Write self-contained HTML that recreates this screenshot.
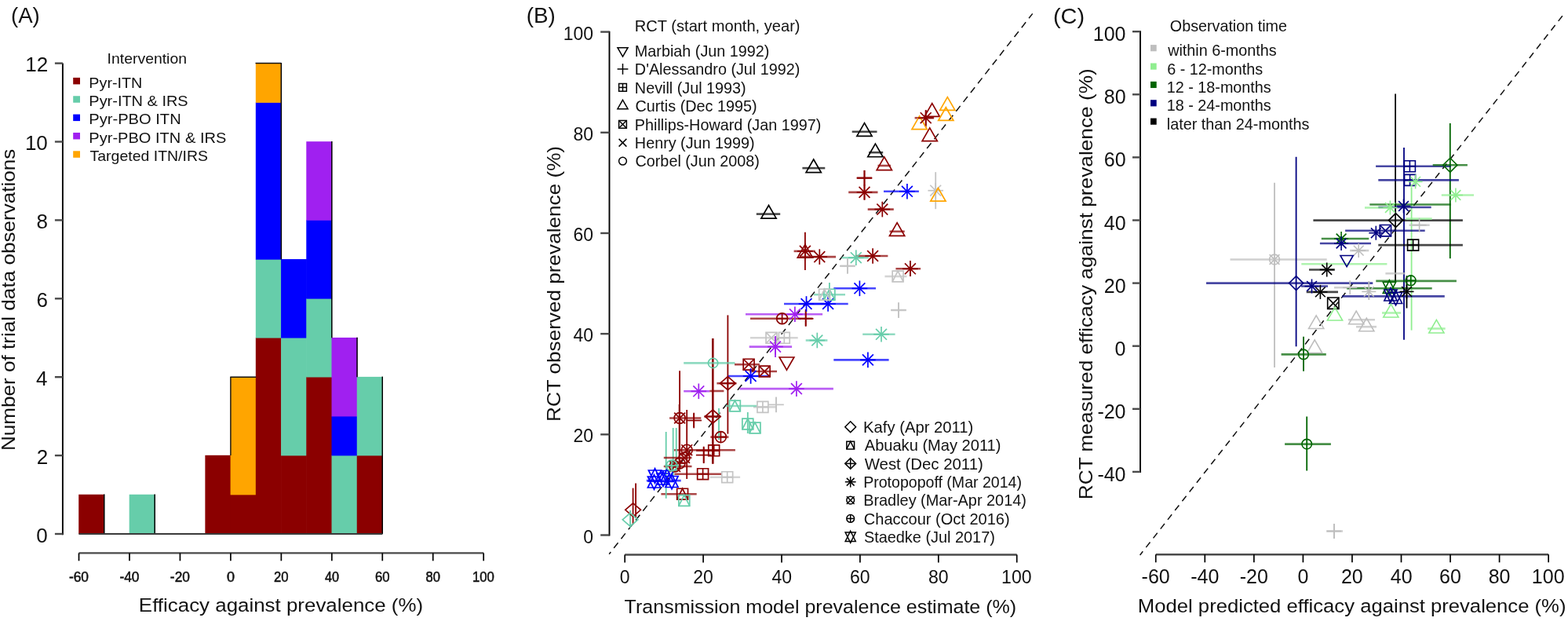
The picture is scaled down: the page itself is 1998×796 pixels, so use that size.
<!DOCTYPE html>
<html><head><meta charset="utf-8"><style>
html,body{margin:0;padding:0;background:#fff;}
svg{display:block;}
text{font-family:"Liberation Sans",Arial,sans-serif;}
</style></head><body>
<svg width="1998" height="796" viewBox="0 0 1998 796">
<rect width="1998" height="796" fill="#fff"/>
<rect x="100.22" y="629.75" width="32.83" height="50.55" fill="#8b0000"/>
<rect x="164.68" y="629.75" width="32.83" height="50.55" fill="#66cdaa"/>
<rect x="261.37" y="579.80" width="32.83" height="100.50" fill="#8b0000"/>
<rect x="293.60" y="629.75" width="32.83" height="50.55" fill="#8b0000"/>
<rect x="293.60" y="479.90" width="32.83" height="150.45" fill="#ffa500"/>
<rect x="325.83" y="429.95" width="32.83" height="250.35" fill="#8b0000"/>
<rect x="325.83" y="330.05" width="32.83" height="100.50" fill="#66cdaa"/>
<rect x="325.83" y="130.25" width="32.83" height="200.40" fill="#0000ff"/>
<rect x="325.83" y="80.30" width="32.83" height="50.55" fill="#ffa500"/>
<rect x="358.06" y="579.80" width="32.83" height="100.50" fill="#8b0000"/>
<rect x="358.06" y="429.95" width="32.83" height="150.45" fill="#66cdaa"/>
<rect x="358.06" y="330.05" width="32.83" height="100.50" fill="#0000ff"/>
<rect x="390.29" y="479.90" width="32.83" height="200.40" fill="#8b0000"/>
<rect x="390.29" y="380.00" width="32.83" height="100.50" fill="#66cdaa"/>
<rect x="390.29" y="280.10" width="32.83" height="100.50" fill="#0000ff"/>
<rect x="390.29" y="180.20" width="32.83" height="100.50" fill="#a020f0"/>
<rect x="422.52" y="579.80" width="32.83" height="100.50" fill="#66cdaa"/>
<rect x="422.52" y="529.85" width="32.83" height="50.55" fill="#0000ff"/>
<rect x="422.52" y="429.95" width="32.83" height="100.50" fill="#a020f0"/>
<rect x="454.75" y="579.80" width="32.83" height="100.50" fill="#8b0000"/>
<rect x="454.75" y="479.90" width="32.83" height="100.50" fill="#66cdaa"/>
<line x1="132.75" y1="629.45" x2="132.75" y2="680.00" stroke="#000" stroke-width="1.5"/>
<line x1="197.21" y1="629.45" x2="197.21" y2="680.00" stroke="#000" stroke-width="1.5"/>
<line x1="293.30" y1="480.20" x2="326.13" y2="480.20" stroke="#111" stroke-width="1.5"/>
<line x1="358.36" y1="80.00" x2="358.36" y2="330.35" stroke="#000" stroke-width="1.5"/>
<line x1="325.53" y1="80.60" x2="358.36" y2="80.60" stroke="#111" stroke-width="1.5"/>
<line x1="422.82" y1="179.90" x2="422.82" y2="430.25" stroke="#000" stroke-width="1.5"/>
<line x1="455.05" y1="429.65" x2="455.05" y2="480.20" stroke="#000" stroke-width="1.5"/>
<line x1="487.28" y1="479.60" x2="487.28" y2="680.00" stroke="#000" stroke-width="1.5"/>
<line x1="293.90" y1="480.20" x2="293.90" y2="580.10" stroke="#111" stroke-width="1.4"/>
<line x1="100.52" y1="680.00" x2="487.28" y2="680.00" stroke="#3a3a3a" stroke-width="2.0"/>
<line x1="79.90" y1="681.20" x2="79.90" y2="80.60" stroke="#000" stroke-width="1.9"/>
<line x1="69.90" y1="680.00" x2="79.90" y2="680.00" stroke="#4a4a4a" stroke-width="2.4"/>
<text x="46.31" y="690.50" font-size="26" fill="#111">0</text>
<line x1="69.90" y1="580.10" x2="79.90" y2="580.10" stroke="#4a4a4a" stroke-width="2.4"/>
<text x="46.64" y="590.60" font-size="26" fill="#111">2</text>
<line x1="69.90" y1="480.20" x2="79.90" y2="480.20" stroke="#4a4a4a" stroke-width="2.4"/>
<text x="46.05" y="490.70" font-size="26" fill="#111">4</text>
<line x1="69.90" y1="380.30" x2="79.90" y2="380.30" stroke="#4a4a4a" stroke-width="2.4"/>
<text x="46.44" y="390.80" font-size="26" fill="#111">6</text>
<line x1="69.90" y1="280.40" x2="79.90" y2="280.40" stroke="#4a4a4a" stroke-width="2.4"/>
<text x="46.44" y="290.90" font-size="26" fill="#111">8</text>
<line x1="69.90" y1="180.50" x2="79.90" y2="180.50" stroke="#4a4a4a" stroke-width="2.4"/>
<text x="31.88" y="191.00" font-size="26" fill="#111">10</text>
<line x1="69.90" y1="80.60" x2="79.90" y2="80.60" stroke="#4a4a4a" stroke-width="2.4"/>
<text x="32.20" y="91.10" font-size="26" fill="#111">12</text>
<line x1="100.52" y1="704.40" x2="616.20" y2="704.40" stroke="#4a4a4a" stroke-width="2.4"/>
<line x1="100.52" y1="704.40" x2="100.52" y2="714.30" stroke="#000" stroke-width="1.7"/>
<text x="87.94" y="741.40" font-size="18" fill="#111" textLength="25.08" lengthAdjust="spacingAndGlyphs" stroke="#111" stroke-width="0.55">-60</text>
<line x1="164.98" y1="704.40" x2="164.98" y2="714.30" stroke="#000" stroke-width="1.7"/>
<text x="152.40" y="741.40" font-size="18" fill="#111" textLength="25.08" lengthAdjust="spacingAndGlyphs" stroke="#111" stroke-width="0.55">-40</text>
<line x1="229.44" y1="704.40" x2="229.44" y2="714.30" stroke="#000" stroke-width="1.7"/>
<text x="216.86" y="741.40" font-size="18" fill="#111" textLength="25.08" lengthAdjust="spacingAndGlyphs" stroke="#111" stroke-width="0.55">-20</text>
<line x1="293.90" y1="704.40" x2="293.90" y2="714.30" stroke="#000" stroke-width="1.7"/>
<text x="288.90" y="741.40" font-size="18" fill="#111" stroke="#111" stroke-width="0.55">0</text>
<line x1="358.36" y1="704.40" x2="358.36" y2="714.30" stroke="#000" stroke-width="1.7"/>
<text x="349.03" y="741.40" font-size="18" fill="#111" textLength="18.54" lengthAdjust="spacingAndGlyphs" stroke="#111" stroke-width="0.55">20</text>
<line x1="422.82" y1="704.40" x2="422.82" y2="714.30" stroke="#000" stroke-width="1.7"/>
<text x="413.95" y="741.40" font-size="18" fill="#111" textLength="18.05" lengthAdjust="spacingAndGlyphs" stroke="#111" stroke-width="0.55">40</text>
<line x1="487.28" y1="704.40" x2="487.28" y2="714.30" stroke="#000" stroke-width="1.7"/>
<text x="477.95" y="741.40" font-size="18" fill="#111" textLength="18.54" lengthAdjust="spacingAndGlyphs" stroke="#111" stroke-width="0.55">60</text>
<line x1="551.74" y1="704.40" x2="551.74" y2="714.30" stroke="#000" stroke-width="1.7"/>
<text x="542.54" y="741.40" font-size="18" fill="#111" textLength="18.40" lengthAdjust="spacingAndGlyphs" stroke="#111" stroke-width="0.55">80</text>
<line x1="616.20" y1="704.40" x2="616.20" y2="714.30" stroke="#000" stroke-width="1.7"/>
<text x="601.94" y="741.40" font-size="18" fill="#111" textLength="27.94" lengthAdjust="spacingAndGlyphs" stroke="#111" stroke-width="0.55">100</text>
<text x="176.86" y="779.00" font-size="24.5" fill="#111" textLength="362.25" lengthAdjust="spacingAndGlyphs">Efficacy against prevalence (%)</text>
<text transform="translate(18.60,574.05) rotate(-90)" x="0" y="0" font-size="24.5" fill="#111" textLength="384.43" lengthAdjust="spacingAndGlyphs">Number of trial data observations</text>
<text x="13.97" y="29.00" font-size="28" fill="#111" textLength="36.84" lengthAdjust="spacingAndGlyphs">(A)</text>
<text x="136.60" y="81.00" font-size="19" fill="#111" textLength="101.42" lengthAdjust="spacingAndGlyphs">Intervention</text>
<rect x="93.20" y="98.90" width="8.80" height="8.50" fill="#8b0000"/>
<text x="113.37" y="111.60" font-size="19" fill="#111" textLength="67.98" lengthAdjust="spacingAndGlyphs">Pyr-ITN</text>
<rect x="93.20" y="122.25" width="8.80" height="8.50" fill="#66cdaa"/>
<text x="113.35" y="134.95" font-size="19" fill="#111" textLength="126.32" lengthAdjust="spacingAndGlyphs">Pyr-ITN &amp; IRS</text>
<rect x="93.20" y="145.60" width="8.80" height="8.50" fill="#0000ff"/>
<text x="113.34" y="158.30" font-size="19" fill="#111" textLength="117.34" lengthAdjust="spacingAndGlyphs">Pyr-PBO ITN</text>
<rect x="93.20" y="168.95" width="8.80" height="8.50" fill="#a020f0"/>
<text x="113.34" y="181.65" font-size="19" fill="#111" textLength="175.02" lengthAdjust="spacingAndGlyphs">Pyr-PBO ITN &amp; IRS</text>
<rect x="93.20" y="192.30" width="8.80" height="8.50" fill="#ffa500"/>
<text x="114.56" y="205.00" font-size="19" fill="#111" textLength="150.42" lengthAdjust="spacingAndGlyphs">Targeted ITN/IRS</text>
<line x1="776.2" y1="705.68" x2="1315.7" y2="17.40" stroke="#111" stroke-width="1.5" stroke-dasharray="8.7,6.34" stroke-dashoffset="5.34"/>
<line x1="776.50" y1="682.50" x2="776.50" y2="39.70" stroke="#000" stroke-width="1.9"/>
<line x1="765.20" y1="681.50" x2="776.50" y2="681.50" stroke="#4a4a4a" stroke-width="2.4"/>
<text x="743.36" y="691.50" font-size="23" fill="#111">0</text>
<line x1="765.20" y1="553.32" x2="776.50" y2="553.32" stroke="#4a4a4a" stroke-width="2.4"/>
<text x="730.59" y="563.32" font-size="23" fill="#111">20</text>
<line x1="765.20" y1="425.14" x2="776.50" y2="425.14" stroke="#4a4a4a" stroke-width="2.4"/>
<text x="730.59" y="435.14" font-size="23" fill="#111">40</text>
<line x1="765.20" y1="296.96" x2="776.50" y2="296.96" stroke="#4a4a4a" stroke-width="2.4"/>
<text x="730.59" y="306.96" font-size="23" fill="#111">60</text>
<line x1="765.20" y1="168.78" x2="776.50" y2="168.78" stroke="#4a4a4a" stroke-width="2.4"/>
<text x="730.59" y="178.78" font-size="23" fill="#111">80</text>
<line x1="765.20" y1="40.60" x2="776.50" y2="40.60" stroke="#4a4a4a" stroke-width="2.4"/>
<text x="717.77" y="50.60" font-size="23" fill="#111">100</text>
<line x1="796.20" y1="706.50" x2="1295.70" y2="706.50" stroke="#4a4a4a" stroke-width="2.4"/>
<line x1="796.20" y1="706.50" x2="796.20" y2="716.50" stroke="#000" stroke-width="1.7"/>
<text x="789.82" y="742.50" font-size="23" fill="#111">0</text>
<line x1="896.10" y1="706.50" x2="896.10" y2="716.50" stroke="#000" stroke-width="1.7"/>
<text x="883.22" y="742.50" font-size="23" fill="#111">20</text>
<line x1="996.00" y1="706.50" x2="996.00" y2="716.50" stroke="#000" stroke-width="1.7"/>
<text x="983.44" y="742.50" font-size="23" fill="#111">40</text>
<line x1="1095.90" y1="706.50" x2="1095.90" y2="716.50" stroke="#000" stroke-width="1.7"/>
<text x="1083.02" y="742.50" font-size="23" fill="#111">60</text>
<line x1="1195.80" y1="706.50" x2="1195.80" y2="716.50" stroke="#000" stroke-width="1.7"/>
<text x="1183.01" y="742.50" font-size="23" fill="#111">80</text>
<line x1="1295.70" y1="706.50" x2="1295.70" y2="716.50" stroke="#000" stroke-width="1.7"/>
<text x="1276.12" y="742.50" font-size="23" fill="#111">100</text>
<text x="795.64" y="780.50" font-size="24.5" fill="#111" textLength="499.51" lengthAdjust="spacingAndGlyphs">Transmission model prevalence estimate (%)</text>
<text transform="translate(713.60,536.96) rotate(-90)" x="0" y="0" font-size="24.5" fill="#111" textLength="351.04" lengthAdjust="spacingAndGlyphs">RCT observed prevalence (%)</text>
<text x="670.66" y="28.70" font-size="27.5" fill="#111" textLength="37.17" lengthAdjust="spacingAndGlyphs">(B)</text>
<text x="808.84" y="39.90" font-size="19.8" fill="#111" textLength="210.70" lengthAdjust="spacingAndGlyphs">RCT (start month, year)</text>
<text x="808.87" y="71.70" font-size="19.8" fill="#111">Marbiah (Jun 1992)</text>
<path d="M793.50,72.08 L800.07,60.71 L786.93,60.71 Z" fill="none" stroke="#000" stroke-width="1.5" stroke-linejoin="miter"/>
<text x="808.87" y="95.15" font-size="19.8" fill="#111">D'Alessandro (Jul 1992)</text>
<line x1="786.61" y1="87.95" x2="800.39" y2="87.95" stroke="#000" stroke-width="1.5"/>
<line x1="793.50" y1="81.06" x2="793.50" y2="94.84" stroke="#000" stroke-width="1.5"/>
<text x="808.87" y="118.60" font-size="19.8" fill="#111">Nevill (Jul 1993)</text>
<path d="M788.62,106.52 L798.38,106.52 L798.38,116.27 L788.62,116.27 Z" fill="none" stroke="#000" stroke-width="1.5" stroke-linejoin="miter"/>
<line x1="788.62" y1="111.40" x2="798.38" y2="111.40" stroke="#000" stroke-width="1.5"/>
<line x1="793.50" y1="106.52" x2="793.50" y2="116.27" stroke="#000" stroke-width="1.5"/>
<text x="809.51" y="142.05" font-size="19.8" fill="#111">Curtis (Dec 1995)</text>
<path d="M793.50,127.27 L800.07,138.64 L786.93,138.64 Z" fill="none" stroke="#000" stroke-width="1.5" stroke-linejoin="miter"/>
<text x="808.87" y="165.50" font-size="19.8" fill="#111">Phillips-Howard (Jan 1997)</text>
<path d="M788.62,153.43 L798.38,153.43 L798.38,163.18 L788.62,163.18 Z" fill="none" stroke="#000" stroke-width="1.5" stroke-linejoin="miter"/>
<line x1="788.62" y1="153.43" x2="798.38" y2="163.18" stroke="#000" stroke-width="1.5"/>
<line x1="788.62" y1="163.18" x2="798.38" y2="153.43" stroke="#000" stroke-width="1.5"/>
<text x="808.87" y="188.95" font-size="19.8" fill="#111">Henry (Jun 1999)</text>
<line x1="788.62" y1="176.88" x2="798.38" y2="186.62" stroke="#000" stroke-width="1.5"/>
<line x1="788.62" y1="186.62" x2="798.38" y2="176.88" stroke="#000" stroke-width="1.5"/>
<text x="809.51" y="212.40" font-size="19.8" fill="#111">Corbel (Jun 2008)</text>
<ellipse cx="793.50" cy="205.20" rx="4.88" ry="4.88" fill="none" stroke="#000" stroke-width="1.5"/>
<text x="1100.13" y="550.90" font-size="19.8" fill="#111" textLength="140.17" lengthAdjust="spacingAndGlyphs">Kafy (Apr 2011)</text>
<path d="M1076.81,543.70 L1083.70,536.81 L1090.59,543.70 L1083.70,550.59 Z" fill="none" stroke="#000" stroke-width="1.5" stroke-linejoin="miter"/>
<text x="1101.75" y="574.25" font-size="19.8" fill="#111" textLength="173.67" lengthAdjust="spacingAndGlyphs">Abuaku (May 2011)</text>
<path d="M1078.83,562.17 L1088.58,562.17 L1088.58,571.92 L1078.83,571.92 Z" fill="none" stroke="#000" stroke-width="1.5" stroke-linejoin="miter"/>
<path d="M1078.83,571.92 L1083.70,562.17 L1088.58,571.92" fill="none" stroke="#000" stroke-width="1.5" stroke-linejoin="miter"/>
<text x="1101.70" y="597.60" font-size="19.8" fill="#111" textLength="151.14" lengthAdjust="spacingAndGlyphs">West (Dec 2011)</text>
<path d="M1076.81,590.40 L1083.70,583.51 L1090.59,590.40 L1083.70,597.29 Z" fill="none" stroke="#000" stroke-width="1.5" stroke-linejoin="miter"/>
<line x1="1076.81" y1="590.40" x2="1090.59" y2="590.40" stroke="#000" stroke-width="1.5"/>
<line x1="1083.70" y1="583.51" x2="1083.70" y2="597.29" stroke="#000" stroke-width="1.5"/>
<text x="1100.19" y="620.95" font-size="19.8" fill="#111" textLength="201.81" lengthAdjust="spacingAndGlyphs">Protopopoff (Mar 2014)</text>
<line x1="1078.83" y1="608.88" x2="1088.58" y2="618.62" stroke="#000" stroke-width="1.5"/>
<line x1="1078.83" y1="618.62" x2="1088.58" y2="608.88" stroke="#000" stroke-width="1.5"/>
<line x1="1076.81" y1="613.75" x2="1090.59" y2="613.75" stroke="#000" stroke-width="1.5"/>
<line x1="1083.70" y1="606.86" x2="1083.70" y2="620.64" stroke="#000" stroke-width="1.5"/>
<text x="1100.16" y="644.30" font-size="19.8" fill="#111" textLength="207.75" lengthAdjust="spacingAndGlyphs">Bradley (Mar-Apr 2014)</text>
<ellipse cx="1083.70" cy="637.10" rx="4.88" ry="4.88" fill="none" stroke="#000" stroke-width="1.5"/>
<line x1="1078.83" y1="632.22" x2="1088.58" y2="641.97" stroke="#000" stroke-width="1.5"/>
<line x1="1078.83" y1="641.97" x2="1088.58" y2="632.22" stroke="#000" stroke-width="1.5"/>
<text x="1100.80" y="667.65" font-size="19.8" fill="#111" textLength="185.79" lengthAdjust="spacingAndGlyphs">Chaccour (Oct 2016)</text>
<ellipse cx="1083.70" cy="660.45" rx="4.88" ry="4.88" fill="none" stroke="#000" stroke-width="1.5"/>
<line x1="1078.83" y1="660.45" x2="1088.58" y2="660.45" stroke="#000" stroke-width="1.5"/>
<line x1="1083.70" y1="655.57" x2="1083.70" y2="665.32" stroke="#000" stroke-width="1.5"/>
<text x="1100.90" y="691.00" font-size="19.8" fill="#111" textLength="166.97" lengthAdjust="spacingAndGlyphs">Staedke (Jul 2017)</text>
<path d="M1083.70,676.22 L1090.27,689.49 L1077.13,689.49 Z" fill="none" stroke="#000" stroke-width="1.5" stroke-linejoin="miter"/>
<path d="M1083.70,691.38 L1090.27,678.11 L1077.13,678.11 Z" fill="none" stroke="#000" stroke-width="1.5" stroke-linejoin="miter"/>
<line x1="1452.6" y1="706.95" x2="1993.2" y2="17.32" stroke="#111" stroke-width="1.5" stroke-dasharray="8.4,6.54" stroke-dashoffset="2.44"/>
<line x1="1453.00" y1="601.90" x2="1453.00" y2="39.30" stroke="#000" stroke-width="1.9"/>
<line x1="1443.00" y1="600.90" x2="1453.00" y2="600.90" stroke="#4a4a4a" stroke-width="2.4"/>
<text x="1398.38" y="612.90" font-size="25" fill="#111">-40</text>
<line x1="1443.00" y1="520.80" x2="1453.00" y2="520.80" stroke="#4a4a4a" stroke-width="2.4"/>
<text x="1398.38" y="532.80" font-size="25" fill="#111">-20</text>
<line x1="1443.00" y1="440.70" x2="1453.00" y2="440.70" stroke="#4a4a4a" stroke-width="2.4"/>
<text x="1420.62" y="452.70" font-size="25" fill="#111">0</text>
<line x1="1443.00" y1="360.60" x2="1453.00" y2="360.60" stroke="#4a4a4a" stroke-width="2.4"/>
<text x="1406.75" y="372.60" font-size="25" fill="#111">20</text>
<line x1="1443.00" y1="280.50" x2="1453.00" y2="280.50" stroke="#4a4a4a" stroke-width="2.4"/>
<text x="1406.75" y="292.50" font-size="25" fill="#111">40</text>
<line x1="1443.00" y1="200.40" x2="1453.00" y2="200.40" stroke="#4a4a4a" stroke-width="2.4"/>
<text x="1406.75" y="212.40" font-size="25" fill="#111">60</text>
<line x1="1443.00" y1="120.30" x2="1453.00" y2="120.30" stroke="#4a4a4a" stroke-width="2.4"/>
<text x="1406.75" y="132.30" font-size="25" fill="#111">80</text>
<line x1="1443.00" y1="40.20" x2="1453.00" y2="40.20" stroke="#4a4a4a" stroke-width="2.4"/>
<text x="1392.81" y="52.20" font-size="25" fill="#111">100</text>
<line x1="1472.75" y1="706.30" x2="1973.15" y2="706.30" stroke="#4a4a4a" stroke-width="2.4"/>
<line x1="1472.75" y1="706.30" x2="1472.75" y2="716.30" stroke="#000" stroke-width="1.7"/>
<text x="1454.62" y="742.60" font-size="25" fill="#111">-60</text>
<line x1="1535.30" y1="706.30" x2="1535.30" y2="716.30" stroke="#000" stroke-width="1.7"/>
<text x="1517.18" y="742.60" font-size="25" fill="#111">-40</text>
<line x1="1597.85" y1="706.30" x2="1597.85" y2="716.30" stroke="#000" stroke-width="1.7"/>
<text x="1579.73" y="742.60" font-size="25" fill="#111">-20</text>
<line x1="1660.40" y1="706.30" x2="1660.40" y2="716.30" stroke="#000" stroke-width="1.7"/>
<text x="1653.46" y="742.60" font-size="25" fill="#111">0</text>
<line x1="1722.95" y1="706.30" x2="1722.95" y2="716.30" stroke="#000" stroke-width="1.7"/>
<text x="1708.95" y="742.60" font-size="25" fill="#111">20</text>
<line x1="1785.50" y1="706.30" x2="1785.50" y2="716.30" stroke="#000" stroke-width="1.7"/>
<text x="1771.84" y="742.60" font-size="25" fill="#111">40</text>
<line x1="1848.05" y1="706.30" x2="1848.05" y2="716.30" stroke="#000" stroke-width="1.7"/>
<text x="1834.05" y="742.60" font-size="25" fill="#111">60</text>
<line x1="1910.60" y1="706.30" x2="1910.60" y2="716.30" stroke="#000" stroke-width="1.7"/>
<text x="1896.69" y="742.60" font-size="25" fill="#111">80</text>
<line x1="1973.15" y1="706.30" x2="1973.15" y2="716.30" stroke="#000" stroke-width="1.7"/>
<text x="1951.87" y="742.60" font-size="25" fill="#111">100</text>
<text x="1449.88" y="780.30" font-size="24.5" fill="#111" textLength="545.61" lengthAdjust="spacingAndGlyphs">Model predicted efficacy against prevalence (%)</text>
<text transform="translate(1392.40,636.27) rotate(-90)" x="0" y="0" font-size="24.5" fill="#111" textLength="549.08" lengthAdjust="spacingAndGlyphs">RCT measured efficacy against prevalence (%)</text>
<text x="1341.99" y="30.00" font-size="27.5" fill="#111" textLength="40.10" lengthAdjust="spacingAndGlyphs">(C)</text>
<text x="1490.86" y="39.50" font-size="19.8" fill="#111" textLength="149.05" lengthAdjust="spacingAndGlyphs">Observation time</text>
<text x="1488.20" y="71.30" font-size="19.8" fill="#111">within 6-months</text>
<rect x="1466.00" y="57.10" width="7.70" height="8.20" fill="#bebebe"/>
<text x="1487.21" y="94.67" font-size="19.8" fill="#111">6 - 12-months</text>
<rect x="1466.00" y="80.47" width="7.70" height="8.20" fill="#90ee90"/>
<text x="1486.72" y="118.04" font-size="19.8" fill="#111">12 - 18-months</text>
<rect x="1466.00" y="103.84" width="7.70" height="8.20" fill="#006400"/>
<text x="1486.72" y="141.41" font-size="19.8" fill="#111">18 - 24-months</text>
<rect x="1466.00" y="127.21" width="7.70" height="8.20" fill="#000080"/>
<text x="1486.86" y="164.78" font-size="19.8" fill="#111">later than 24-months</text>
<rect x="1466.00" y="150.58" width="7.70" height="8.20" fill="#000"/>
<line x1="806.60" y1="621.60" x2="806.60" y2="668.00" stroke="#8b0000" stroke-width="1.8"/>
<line x1="803.10" y1="650.00" x2="803.10" y2="672.00" stroke="#66cdaa" stroke-width="1.8"/>
<line x1="810.10" y1="615.60" x2="810.10" y2="660.00" stroke="#8b0000" stroke-width="1.8"/>
<line x1="823.80" y1="612.10" x2="867.70" y2="612.10" stroke="#0000ff" stroke-width="2.6" stroke-opacity="0.72"/>
<line x1="842.40" y1="629.20" x2="887.70" y2="629.20" stroke="#8b0000" stroke-width="2.6" stroke-opacity="0.72"/>
<line x1="859.40" y1="603.70" x2="919.30" y2="603.70" stroke="#8b0000" stroke-width="2.6" stroke-opacity="0.72"/>
<line x1="904.60" y1="607.70" x2="943.10" y2="607.70" stroke="#c4c4c4" stroke-width="2.6" stroke-opacity="0.72"/>
<line x1="858.80" y1="573.20" x2="936.90" y2="573.20" stroke="#8b0000" stroke-width="2.6" stroke-opacity="0.72"/>
<line x1="887.10" y1="573.80" x2="917.10" y2="573.80" stroke="#8b0000" stroke-width="2.6" stroke-opacity="0.72"/>
<line x1="896.70" y1="568.70" x2="896.70" y2="590.10" stroke="#8b0000" stroke-width="1.8"/>
<line x1="848.70" y1="550.00" x2="848.70" y2="634.80" stroke="#66cdaa" stroke-width="1.8"/>
<line x1="857.70" y1="545.00" x2="857.70" y2="606.00" stroke="#66cdaa" stroke-width="1.8"/>
<line x1="861.70" y1="545.00" x2="861.70" y2="600.00" stroke="#66cdaa" stroke-width="1.8"/>
<line x1="875.20" y1="522.00" x2="875.20" y2="610.00" stroke="#8b0000" stroke-width="1.8"/>
<line x1="865.60" y1="515.00" x2="865.60" y2="597.00" stroke="#8b0000" stroke-width="1.8"/>
<line x1="845.80" y1="583.00" x2="881.50" y2="583.00" stroke="#8b0000" stroke-width="2.6" stroke-opacity="0.72"/>
<line x1="845.80" y1="594.00" x2="881.50" y2="594.00" stroke="#8b0000" stroke-width="2.6" stroke-opacity="0.72"/>
<line x1="847.00" y1="593.00" x2="868.50" y2="593.00" stroke="#66cdaa" stroke-width="2.6" stroke-opacity="0.72"/>
<line x1="853.10" y1="532.50" x2="893.30" y2="532.50" stroke="#8b0000" stroke-width="2.6" stroke-opacity="0.72"/>
<line x1="866.10" y1="472.20" x2="866.10" y2="580.70" stroke="#8b0000" stroke-width="1.8"/>
<line x1="884.20" y1="526.40" x2="884.20" y2="544.50" stroke="#8b0000" stroke-width="1.8"/>
<line x1="908.30" y1="431.00" x2="908.30" y2="590.80" stroke="#8b0000" stroke-width="2.6"/>
<line x1="897.30" y1="530.50" x2="918.40" y2="530.50" stroke="#8b0000" stroke-width="2.6" stroke-opacity="0.72"/>
<line x1="905.30" y1="556.60" x2="928.40" y2="556.60" stroke="#8b0000" stroke-width="2.6" stroke-opacity="0.72"/>
<line x1="916.00" y1="520.00" x2="916.00" y2="560.00" stroke="#66cdaa" stroke-width="1.8"/>
<line x1="913.40" y1="488.20" x2="938.50" y2="488.20" stroke="#8b0000" stroke-width="2.6" stroke-opacity="0.72"/>
<line x1="927.40" y1="401.40" x2="927.40" y2="552.60" stroke="#8b0000" stroke-width="1.8"/>
<line x1="871.20" y1="462.40" x2="936.50" y2="462.40" stroke="#66cdaa" stroke-width="2.6" stroke-opacity="0.72"/>
<line x1="871.20" y1="498.30" x2="904.30" y2="498.30" stroke="#a020f0" stroke-width="2.6" stroke-opacity="0.72"/>
<line x1="904.30" y1="498.00" x2="922.40" y2="498.00" stroke="#8b0000" stroke-width="2.6" stroke-opacity="0.72"/>
<line x1="936.00" y1="464.20" x2="968.00" y2="464.20" stroke="#8b0000" stroke-width="2.6" stroke-opacity="0.72"/>
<line x1="955.00" y1="473.00" x2="990.00" y2="473.00" stroke="#8b0000" stroke-width="2.6" stroke-opacity="0.72"/>
<line x1="928.00" y1="479.00" x2="981.50" y2="479.00" stroke="#0000ff" stroke-width="2.6" stroke-opacity="0.72"/>
<line x1="956.00" y1="405.80" x2="1035.50" y2="405.80" stroke="#8b0000" stroke-width="2.6" stroke-opacity="0.72"/>
<line x1="950.00" y1="400.30" x2="1048.10" y2="400.30" stroke="#a020f0" stroke-width="2.6" stroke-opacity="0.72"/>
<line x1="1026.70" y1="394.00" x2="1026.70" y2="415.40" stroke="#8b0000" stroke-width="1.8"/>
<line x1="956.00" y1="430.30" x2="1016.70" y2="430.30" stroke="#c4c4c4" stroke-width="2.6" stroke-opacity="0.72"/>
<line x1="954.70" y1="441.60" x2="1009.10" y2="441.60" stroke="#a020f0" stroke-width="2.6" stroke-opacity="0.72"/>
<line x1="988.00" y1="428.00" x2="988.00" y2="455.00" stroke="#a020f0" stroke-width="1.8"/>
<line x1="999.00" y1="387.00" x2="1054.40" y2="387.00" stroke="#0000ff" stroke-width="2.6" stroke-opacity="0.72"/>
<line x1="1028.00" y1="387.00" x2="1080.70" y2="387.00" stroke="#0000ff" stroke-width="2.6" stroke-opacity="0.72"/>
<line x1="1036.80" y1="375.20" x2="1077.00" y2="375.20" stroke="#66cdaa" stroke-width="2.6" stroke-opacity="0.72"/>
<line x1="1056.90" y1="360.00" x2="1056.90" y2="385.20" stroke="#66cdaa" stroke-width="1.8"/>
<line x1="1026.70" y1="433.50" x2="1054.40" y2="433.50" stroke="#66cdaa" stroke-width="2.6" stroke-opacity="0.72"/>
<line x1="942.50" y1="495.10" x2="1061.90" y2="495.10" stroke="#a020f0" stroke-width="2.6" stroke-opacity="0.72"/>
<line x1="960.00" y1="518.40" x2="990.00" y2="518.40" stroke="#c4c4c4" stroke-width="2.6" stroke-opacity="0.72"/>
<line x1="989.00" y1="506.00" x2="989.00" y2="525.00" stroke="#c4c4c4" stroke-width="1.8"/>
<line x1="925.00" y1="517.00" x2="964.00" y2="517.00" stroke="#66cdaa" stroke-width="2.6" stroke-opacity="0.72"/>
<line x1="952.80" y1="525.00" x2="952.80" y2="552.00" stroke="#66cdaa" stroke-width="1.8"/>
<line x1="1062.30" y1="367.30" x2="1116.00" y2="367.30" stroke="#0000ff" stroke-width="2.6" stroke-opacity="0.72"/>
<line x1="1135.30" y1="395.00" x2="1154.60" y2="395.00" stroke="#c4c4c4" stroke-width="2.6" stroke-opacity="0.72"/>
<line x1="1145.00" y1="385.40" x2="1145.00" y2="404.70" stroke="#c4c4c4" stroke-width="1.8"/>
<line x1="1099.20" y1="425.80" x2="1140.60" y2="425.80" stroke="#66cdaa" stroke-width="2.6" stroke-opacity="0.72"/>
<line x1="1062.30" y1="458.40" x2="1132.60" y2="458.40" stroke="#0000ff" stroke-width="2.6" stroke-opacity="0.72"/>
<line x1="1127.40" y1="352.00" x2="1155.50" y2="352.00" stroke="#c4c4c4" stroke-width="2.6" stroke-opacity="0.72"/>
<line x1="1141.40" y1="342.30" x2="1173.10" y2="342.30" stroke="#8b0000" stroke-width="2.6" stroke-opacity="0.72"/>
<line x1="1159.90" y1="332.00" x2="1159.90" y2="352.00" stroke="#8b0000" stroke-width="1.8"/>
<line x1="1070.50" y1="338.80" x2="1089.70" y2="338.80" stroke="#c4c4c4" stroke-width="2.6" stroke-opacity="0.72"/>
<line x1="1079.90" y1="329.20" x2="1079.90" y2="348.40" stroke="#c4c4c4" stroke-width="1.8"/>
<line x1="1072.60" y1="328.20" x2="1106.80" y2="328.20" stroke="#66cdaa" stroke-width="2.6" stroke-opacity="0.72"/>
<line x1="1089.70" y1="326.00" x2="1131.40" y2="326.00" stroke="#8b0000" stroke-width="2.6" stroke-opacity="0.72"/>
<line x1="1011.60" y1="319.90" x2="1038.70" y2="319.90" stroke="#8b0000" stroke-width="2.6" stroke-opacity="0.72"/>
<line x1="1025.90" y1="295.80" x2="1025.90" y2="344.00" stroke="#8b0000" stroke-width="1.8"/>
<line x1="1019.10" y1="327.10" x2="1065.10" y2="327.10" stroke="#8b0000" stroke-width="2.6" stroke-opacity="0.72"/>
<line x1="1133.50" y1="294.80" x2="1152.70" y2="294.80" stroke="#8b0000" stroke-width="2.6" stroke-opacity="0.72"/>
<line x1="1105.70" y1="266.60" x2="1138.80" y2="266.60" stroke="#8b0000" stroke-width="2.6" stroke-opacity="0.72"/>
<line x1="1081.20" y1="244.90" x2="1118.50" y2="244.90" stroke="#8b0000" stroke-width="2.6" stroke-opacity="0.72"/>
<line x1="1101.50" y1="217.00" x2="1101.50" y2="254.50" stroke="#8b0000" stroke-width="1.8"/>
<line x1="1091.80" y1="226.70" x2="1111.10" y2="226.70" stroke="#8b0000" stroke-width="2.6" stroke-opacity="0.72"/>
<line x1="1126.00" y1="243.80" x2="1170.90" y2="243.80" stroke="#0000ff" stroke-width="2.6" stroke-opacity="0.72"/>
<line x1="1192.20" y1="219.20" x2="1192.20" y2="266.20" stroke="#c4c4c4" stroke-width="1.8"/>
<line x1="963.80" y1="272.60" x2="994.20" y2="272.60" stroke="#000000" stroke-width="2.6" stroke-opacity="0.72"/>
<line x1="1022.40" y1="214.10" x2="1051.30" y2="214.10" stroke="#000000" stroke-width="2.6" stroke-opacity="0.72"/>
<line x1="1118.50" y1="211.00" x2="1135.00" y2="211.00" stroke="#8b0000" stroke-width="2.6" stroke-opacity="0.72"/>
<line x1="1107.10" y1="194.20" x2="1125.20" y2="194.20" stroke="#000000" stroke-width="2.6" stroke-opacity="0.72"/>
<line x1="1085.70" y1="167.80" x2="1117.50" y2="167.80" stroke="#000000" stroke-width="2.6" stroke-opacity="0.72"/>
<line x1="1165.60" y1="150.20" x2="1190.20" y2="150.20" stroke="#8b0000" stroke-width="2.6" stroke-opacity="0.72"/>
<line x1="1179.70" y1="140.20" x2="1179.70" y2="162.30" stroke="#8b0000" stroke-width="1.8"/>
<path d="M796.79,649.30 L806.60,640.76 L816.41,649.30 L806.60,657.84 Z" fill="none" stroke="#8b0000" stroke-width="1.7" stroke-linejoin="miter"/>
<path d="M793.29,661.80 L803.10,653.26 L812.91,661.80 L803.10,670.34 Z" fill="none" stroke="#66cdaa" stroke-width="1.7" stroke-linejoin="miter"/>
<path d="M834.50,596.67 L842.58,613.00 L826.42,613.00 Z" fill="none" stroke="#0000ff" stroke-width="1.7" stroke-linejoin="miter"/>
<path d="M834.50,615.33 L842.58,599.00 L826.42,599.00 Z" fill="none" stroke="#0000ff" stroke-width="1.7" stroke-linejoin="miter"/>
<path d="M833.50,604.67 L841.58,621.00 L825.42,621.00 Z" fill="none" stroke="#0000ff" stroke-width="1.7" stroke-linejoin="miter"/>
<path d="M833.50,623.33 L841.58,607.00 L825.42,607.00 Z" fill="none" stroke="#0000ff" stroke-width="1.7" stroke-linejoin="miter"/>
<path d="M845.00,600.67 L853.08,617.00 L836.92,617.00 Z" fill="none" stroke="#0000ff" stroke-width="1.7" stroke-linejoin="miter"/>
<path d="M845.00,619.33 L853.08,603.00 L836.92,603.00 Z" fill="none" stroke="#0000ff" stroke-width="1.7" stroke-linejoin="miter"/>
<path d="M850.00,597.17 L858.08,613.50 L841.92,613.50 Z" fill="none" stroke="#0000ff" stroke-width="1.7" stroke-linejoin="miter"/>
<path d="M850.00,615.83 L858.08,599.50 L841.92,599.50 Z" fill="none" stroke="#0000ff" stroke-width="1.7" stroke-linejoin="miter"/>
<path d="M856.00,604.17 L864.08,620.50 L847.92,620.50 Z" fill="none" stroke="#0000ff" stroke-width="1.7" stroke-linejoin="miter"/>
<path d="M856.00,622.83 L864.08,606.50 L847.92,606.50 Z" fill="none" stroke="#0000ff" stroke-width="1.7" stroke-linejoin="miter"/>
<path d="M862.66,622.26 L876.54,622.26 L876.54,636.14 L862.66,636.14 Z" fill="none" stroke="#8b0000" stroke-width="1.7" stroke-linejoin="miter"/>
<path d="M862.66,636.14 L869.60,622.26 L876.54,636.14" fill="none" stroke="#8b0000" stroke-width="1.7" stroke-linejoin="miter"/>
<path d="M864.86,630.56 L878.74,630.56 L878.74,644.44 L864.86,644.44 Z" fill="none" stroke="#66cdaa" stroke-width="1.7" stroke-linejoin="miter"/>
<path d="M864.86,644.44 L871.80,630.56 L878.74,644.44" fill="none" stroke="#66cdaa" stroke-width="1.7" stroke-linejoin="miter"/>
<path d="M888.66,596.76 L902.54,596.76 L902.54,610.64 L888.66,610.64 Z" fill="none" stroke="#8b0000" stroke-width="1.7" stroke-linejoin="miter"/>
<line x1="888.66" y1="603.70" x2="902.54" y2="603.70" stroke="#8b0000" stroke-width="1.7"/>
<line x1="895.60" y1="596.76" x2="895.60" y2="610.64" stroke="#8b0000" stroke-width="1.7"/>
<path d="M919.76,600.76 L933.64,600.76 L933.64,614.64 L919.76,614.64 Z" fill="none" stroke="#c4c4c4" stroke-width="1.7" stroke-linejoin="miter"/>
<line x1="919.76" y1="607.70" x2="933.64" y2="607.70" stroke="#c4c4c4" stroke-width="1.7"/>
<line x1="926.70" y1="600.76" x2="926.70" y2="614.64" stroke="#c4c4c4" stroke-width="1.7"/>
<ellipse cx="875.20" cy="573.20" rx="6.94" ry="6.94" fill="none" stroke="#8b0000" stroke-width="1.7"/>
<line x1="868.26" y1="566.26" x2="882.14" y2="580.14" stroke="#8b0000" stroke-width="1.7"/>
<line x1="868.26" y1="580.14" x2="882.14" y2="566.26" stroke="#8b0000" stroke-width="1.7"/>
<path d="M902.76,566.86 L916.64,566.86 L916.64,580.74 L902.76,580.74 Z" fill="none" stroke="#8b0000" stroke-width="1.7" stroke-linejoin="miter"/>
<line x1="902.76" y1="573.80" x2="916.64" y2="573.80" stroke="#8b0000" stroke-width="1.7"/>
<line x1="909.70" y1="566.86" x2="909.70" y2="580.74" stroke="#8b0000" stroke-width="1.7"/>
<line x1="886.89" y1="579.60" x2="906.51" y2="579.60" stroke="#8b0000" stroke-width="1.7"/>
<line x1="896.70" y1="569.79" x2="896.70" y2="589.41" stroke="#8b0000" stroke-width="1.7"/>
<ellipse cx="872.00" cy="583.00" rx="6.94" ry="6.94" fill="none" stroke="#8b0000" stroke-width="1.7"/>
<line x1="865.06" y1="576.06" x2="878.94" y2="589.94" stroke="#8b0000" stroke-width="1.7"/>
<line x1="865.06" y1="589.94" x2="878.94" y2="576.06" stroke="#8b0000" stroke-width="1.7"/>
<ellipse cx="866.00" cy="590.00" rx="6.94" ry="6.94" fill="none" stroke="#8b0000" stroke-width="1.7"/>
<line x1="859.06" y1="590.00" x2="872.94" y2="590.00" stroke="#8b0000" stroke-width="1.7"/>
<line x1="866.00" y1="583.06" x2="866.00" y2="596.94" stroke="#8b0000" stroke-width="1.7"/>
<ellipse cx="860.00" cy="594.00" rx="6.94" ry="6.94" fill="none" stroke="#8b0000" stroke-width="1.7"/>
<line x1="853.06" y1="587.06" x2="866.94" y2="600.94" stroke="#8b0000" stroke-width="1.7"/>
<line x1="853.06" y1="600.94" x2="866.94" y2="587.06" stroke="#8b0000" stroke-width="1.7"/>
<ellipse cx="856.00" cy="593.00" rx="6.94" ry="6.94" fill="none" stroke="#66cdaa" stroke-width="1.7"/>
<line x1="849.06" y1="593.00" x2="862.94" y2="593.00" stroke="#66cdaa" stroke-width="1.7"/>
<line x1="856.00" y1="586.06" x2="856.00" y2="599.94" stroke="#66cdaa" stroke-width="1.7"/>
<ellipse cx="866.10" cy="532.50" rx="6.94" ry="6.94" fill="none" stroke="#8b0000" stroke-width="1.7"/>
<line x1="859.16" y1="525.56" x2="873.04" y2="539.44" stroke="#8b0000" stroke-width="1.7"/>
<line x1="859.16" y1="539.44" x2="873.04" y2="525.56" stroke="#8b0000" stroke-width="1.7"/>
<line x1="874.39" y1="535.50" x2="894.01" y2="535.50" stroke="#8b0000" stroke-width="1.7"/>
<line x1="884.20" y1="525.69" x2="884.20" y2="545.31" stroke="#8b0000" stroke-width="1.7"/>
<path d="M898.49,530.50 L908.30,521.96 L918.11,530.50 L908.30,539.04 Z" fill="none" stroke="#8b0000" stroke-width="1.7" stroke-linejoin="miter"/>
<line x1="898.49" y1="530.50" x2="918.11" y2="530.50" stroke="#8b0000" stroke-width="1.7"/>
<line x1="908.30" y1="521.96" x2="908.30" y2="539.04" stroke="#8b0000" stroke-width="1.7"/>
<ellipse cx="918.40" cy="556.60" rx="6.94" ry="6.94" fill="none" stroke="#8b0000" stroke-width="1.7"/>
<line x1="911.46" y1="556.60" x2="925.34" y2="556.60" stroke="#8b0000" stroke-width="1.7"/>
<line x1="918.40" y1="549.66" x2="918.40" y2="563.54" stroke="#8b0000" stroke-width="1.7"/>
<path d="M917.59,488.20 L927.40,479.66 L937.21,488.20 L927.40,496.74 Z" fill="none" stroke="#8b0000" stroke-width="1.7" stroke-linejoin="miter"/>
<line x1="917.59" y1="488.20" x2="937.21" y2="488.20" stroke="#8b0000" stroke-width="1.7"/>
<line x1="927.40" y1="479.66" x2="927.40" y2="496.74" stroke="#8b0000" stroke-width="1.7"/>
<ellipse cx="908.60" cy="462.40" rx="6.17" ry="6.17" fill="none" stroke="#66cdaa" stroke-width="1.7"/>
<line x1="883.36" y1="491.36" x2="897.24" y2="505.24" stroke="#a020f0" stroke-width="1.7"/>
<line x1="883.36" y1="505.24" x2="897.24" y2="491.36" stroke="#a020f0" stroke-width="1.7"/>
<line x1="880.49" y1="498.30" x2="900.11" y2="498.30" stroke="#a020f0" stroke-width="1.7"/>
<line x1="890.30" y1="488.49" x2="890.30" y2="508.11" stroke="#a020f0" stroke-width="1.7"/>
<path d="M947.16,457.26 L961.04,457.26 L961.04,471.14 L947.16,471.14 Z" fill="none" stroke="#8b0000" stroke-width="1.7" stroke-linejoin="miter"/>
<line x1="947.16" y1="457.26" x2="961.04" y2="471.14" stroke="#8b0000" stroke-width="1.7"/>
<line x1="947.16" y1="471.14" x2="961.04" y2="457.26" stroke="#8b0000" stroke-width="1.7"/>
<path d="M967.26,466.06 L981.14,466.06 L981.14,479.94 L967.26,479.94 Z" fill="none" stroke="#8b0000" stroke-width="1.7" stroke-linejoin="miter"/>
<line x1="967.26" y1="466.06" x2="981.14" y2="479.94" stroke="#8b0000" stroke-width="1.7"/>
<line x1="967.26" y1="479.94" x2="981.14" y2="466.06" stroke="#8b0000" stroke-width="1.7"/>
<line x1="949.66" y1="472.06" x2="963.54" y2="485.94" stroke="#0000ff" stroke-width="1.7"/>
<line x1="949.66" y1="485.94" x2="963.54" y2="472.06" stroke="#0000ff" stroke-width="1.7"/>
<line x1="946.79" y1="479.00" x2="966.41" y2="479.00" stroke="#0000ff" stroke-width="1.7"/>
<line x1="956.60" y1="469.19" x2="956.60" y2="488.81" stroke="#0000ff" stroke-width="1.7"/>
<path d="M1002.50,471.19 L1011.84,455.01 L993.16,455.01 Z" fill="none" stroke="#8b0000" stroke-width="1.7" stroke-linejoin="miter"/>
<ellipse cx="996.60" cy="405.80" rx="6.94" ry="6.94" fill="none" stroke="#8b0000" stroke-width="1.7"/>
<line x1="989.66" y1="405.80" x2="1003.54" y2="405.80" stroke="#8b0000" stroke-width="1.7"/>
<line x1="996.60" y1="398.86" x2="996.60" y2="412.74" stroke="#8b0000" stroke-width="1.7"/>
<line x1="1005.96" y1="393.36" x2="1019.84" y2="407.24" stroke="#a020f0" stroke-width="1.7"/>
<line x1="1005.96" y1="407.24" x2="1019.84" y2="393.36" stroke="#a020f0" stroke-width="1.7"/>
<line x1="1003.09" y1="400.30" x2="1022.71" y2="400.30" stroke="#a020f0" stroke-width="1.7"/>
<line x1="1012.90" y1="390.49" x2="1012.90" y2="410.11" stroke="#a020f0" stroke-width="1.7"/>
<line x1="1016.89" y1="405.80" x2="1036.51" y2="405.80" stroke="#8b0000" stroke-width="1.7"/>
<line x1="1026.70" y1="395.99" x2="1026.70" y2="415.61" stroke="#8b0000" stroke-width="1.7"/>
<path d="M976.06,423.36 L989.94,423.36 L989.94,437.24 L976.06,437.24 Z" fill="none" stroke="#c4c4c4" stroke-width="1.7" stroke-linejoin="miter"/>
<line x1="976.06" y1="423.36" x2="989.94" y2="437.24" stroke="#c4c4c4" stroke-width="1.7"/>
<line x1="976.06" y1="437.24" x2="989.94" y2="423.36" stroke="#c4c4c4" stroke-width="1.7"/>
<path d="M992.36,423.36 L1006.24,423.36 L1006.24,437.24 L992.36,437.24 Z" fill="none" stroke="#c4c4c4" stroke-width="1.7" stroke-linejoin="miter"/>
<line x1="992.36" y1="430.30" x2="1006.24" y2="430.30" stroke="#c4c4c4" stroke-width="1.7"/>
<line x1="999.30" y1="423.36" x2="999.30" y2="437.24" stroke="#c4c4c4" stroke-width="1.7"/>
<line x1="981.06" y1="434.66" x2="994.94" y2="448.54" stroke="#a020f0" stroke-width="1.7"/>
<line x1="981.06" y1="448.54" x2="994.94" y2="434.66" stroke="#a020f0" stroke-width="1.7"/>
<line x1="978.19" y1="441.60" x2="997.81" y2="441.60" stroke="#a020f0" stroke-width="1.7"/>
<line x1="988.00" y1="431.79" x2="988.00" y2="451.41" stroke="#a020f0" stroke-width="1.7"/>
<line x1="1020.56" y1="380.06" x2="1034.44" y2="393.94" stroke="#0000ff" stroke-width="1.7"/>
<line x1="1020.56" y1="393.94" x2="1034.44" y2="380.06" stroke="#0000ff" stroke-width="1.7"/>
<line x1="1017.69" y1="387.00" x2="1037.31" y2="387.00" stroke="#0000ff" stroke-width="1.7"/>
<line x1="1027.50" y1="377.19" x2="1027.50" y2="396.81" stroke="#0000ff" stroke-width="1.7"/>
<line x1="1048.16" y1="380.06" x2="1062.04" y2="393.94" stroke="#0000ff" stroke-width="1.7"/>
<line x1="1048.16" y1="393.94" x2="1062.04" y2="380.06" stroke="#0000ff" stroke-width="1.7"/>
<line x1="1045.29" y1="387.00" x2="1064.91" y2="387.00" stroke="#0000ff" stroke-width="1.7"/>
<line x1="1055.10" y1="377.19" x2="1055.10" y2="396.81" stroke="#0000ff" stroke-width="1.7"/>
<path d="M1049.96,368.26 L1063.84,368.26 L1063.84,382.14 L1049.96,382.14 Z" fill="none" stroke="#66cdaa" stroke-width="1.7" stroke-linejoin="miter"/>
<path d="M1049.96,382.14 L1056.90,368.26 L1063.84,382.14" fill="none" stroke="#66cdaa" stroke-width="1.7" stroke-linejoin="miter"/>
<path d="M1043.66,368.26 L1057.54,368.26 L1057.54,382.14 L1043.66,382.14 Z" fill="none" stroke="#c4c4c4" stroke-width="1.7" stroke-linejoin="miter"/>
<path d="M1043.66,382.14 L1050.60,368.26 L1057.54,382.14" fill="none" stroke="#c4c4c4" stroke-width="1.7" stroke-linejoin="miter"/>
<line x1="1034.36" y1="426.56" x2="1048.24" y2="440.44" stroke="#66cdaa" stroke-width="1.7"/>
<line x1="1034.36" y1="440.44" x2="1048.24" y2="426.56" stroke="#66cdaa" stroke-width="1.7"/>
<line x1="1031.49" y1="433.50" x2="1051.11" y2="433.50" stroke="#66cdaa" stroke-width="1.7"/>
<line x1="1041.30" y1="423.69" x2="1041.30" y2="443.31" stroke="#66cdaa" stroke-width="1.7"/>
<line x1="1007.96" y1="488.16" x2="1021.84" y2="502.04" stroke="#a020f0" stroke-width="1.7"/>
<line x1="1007.96" y1="502.04" x2="1021.84" y2="488.16" stroke="#a020f0" stroke-width="1.7"/>
<line x1="1005.09" y1="495.10" x2="1024.71" y2="495.10" stroke="#a020f0" stroke-width="1.7"/>
<line x1="1014.90" y1="485.29" x2="1014.90" y2="504.91" stroke="#a020f0" stroke-width="1.7"/>
<path d="M964.96,511.46 L978.84,511.46 L978.84,525.34 L964.96,525.34 Z" fill="none" stroke="#c4c4c4" stroke-width="1.7" stroke-linejoin="miter"/>
<line x1="964.96" y1="518.40" x2="978.84" y2="518.40" stroke="#c4c4c4" stroke-width="1.7"/>
<line x1="971.90" y1="511.46" x2="971.90" y2="525.34" stroke="#c4c4c4" stroke-width="1.7"/>
<line x1="979.19" y1="515.40" x2="998.81" y2="515.40" stroke="#c4c4c4" stroke-width="1.7"/>
<line x1="989.00" y1="505.59" x2="989.00" y2="525.21" stroke="#c4c4c4" stroke-width="1.7"/>
<path d="M929.46,510.06 L943.34,510.06 L943.34,523.94 L929.46,523.94 Z" fill="none" stroke="#66cdaa" stroke-width="1.7" stroke-linejoin="miter"/>
<path d="M929.46,523.94 L936.40,510.06 L943.34,523.94" fill="none" stroke="#66cdaa" stroke-width="1.7" stroke-linejoin="miter"/>
<path d="M945.86,533.06 L959.74,533.06 L959.74,546.94 L945.86,546.94 Z" fill="none" stroke="#66cdaa" stroke-width="1.7" stroke-linejoin="miter"/>
<path d="M945.86,546.94 L952.80,533.06 L959.74,546.94" fill="none" stroke="#66cdaa" stroke-width="1.7" stroke-linejoin="miter"/>
<path d="M955.06,538.06 L968.94,538.06 L968.94,551.94 L955.06,551.94 Z" fill="none" stroke="#66cdaa" stroke-width="1.7" stroke-linejoin="miter"/>
<path d="M955.06,551.94 L962.00,538.06 L968.94,551.94" fill="none" stroke="#66cdaa" stroke-width="1.7" stroke-linejoin="miter"/>
<line x1="1088.46" y1="360.36" x2="1102.34" y2="374.24" stroke="#0000ff" stroke-width="1.7"/>
<line x1="1088.46" y1="374.24" x2="1102.34" y2="360.36" stroke="#0000ff" stroke-width="1.7"/>
<line x1="1085.59" y1="367.30" x2="1105.21" y2="367.30" stroke="#0000ff" stroke-width="1.7"/>
<line x1="1095.40" y1="357.49" x2="1095.40" y2="377.11" stroke="#0000ff" stroke-width="1.7"/>
<line x1="1135.19" y1="395.00" x2="1154.81" y2="395.00" stroke="#c4c4c4" stroke-width="1.7"/>
<line x1="1145.00" y1="385.19" x2="1145.00" y2="404.81" stroke="#c4c4c4" stroke-width="1.7"/>
<line x1="1116.06" y1="418.86" x2="1129.94" y2="432.74" stroke="#66cdaa" stroke-width="1.7"/>
<line x1="1116.06" y1="432.74" x2="1129.94" y2="418.86" stroke="#66cdaa" stroke-width="1.7"/>
<line x1="1113.19" y1="425.80" x2="1132.81" y2="425.80" stroke="#66cdaa" stroke-width="1.7"/>
<line x1="1123.00" y1="415.99" x2="1123.00" y2="435.61" stroke="#66cdaa" stroke-width="1.7"/>
<line x1="1098.96" y1="451.46" x2="1112.84" y2="465.34" stroke="#0000ff" stroke-width="1.7"/>
<line x1="1098.96" y1="465.34" x2="1112.84" y2="451.46" stroke="#0000ff" stroke-width="1.7"/>
<line x1="1096.09" y1="458.40" x2="1115.71" y2="458.40" stroke="#0000ff" stroke-width="1.7"/>
<line x1="1105.90" y1="448.59" x2="1105.90" y2="468.21" stroke="#0000ff" stroke-width="1.7"/>
<path d="M1137.16,345.06 L1151.04,345.06 L1151.04,358.94 L1137.16,358.94 Z" fill="none" stroke="#c4c4c4" stroke-width="1.7" stroke-linejoin="miter"/>
<path d="M1137.16,358.94 L1144.10,345.06 L1151.04,358.94" fill="none" stroke="#c4c4c4" stroke-width="1.7" stroke-linejoin="miter"/>
<line x1="1152.96" y1="335.36" x2="1166.84" y2="349.24" stroke="#8b0000" stroke-width="1.7"/>
<line x1="1152.96" y1="349.24" x2="1166.84" y2="335.36" stroke="#8b0000" stroke-width="1.7"/>
<line x1="1150.09" y1="342.30" x2="1169.71" y2="342.30" stroke="#8b0000" stroke-width="1.7"/>
<line x1="1159.90" y1="332.49" x2="1159.90" y2="352.11" stroke="#8b0000" stroke-width="1.7"/>
<line x1="1070.09" y1="338.80" x2="1089.71" y2="338.80" stroke="#c4c4c4" stroke-width="1.7"/>
<line x1="1079.90" y1="328.99" x2="1079.90" y2="348.61" stroke="#c4c4c4" stroke-width="1.7"/>
<line x1="1083.86" y1="321.26" x2="1097.74" y2="335.14" stroke="#66cdaa" stroke-width="1.7"/>
<line x1="1083.86" y1="335.14" x2="1097.74" y2="321.26" stroke="#66cdaa" stroke-width="1.7"/>
<line x1="1080.99" y1="328.20" x2="1100.61" y2="328.20" stroke="#66cdaa" stroke-width="1.7"/>
<line x1="1090.80" y1="318.39" x2="1090.80" y2="338.01" stroke="#66cdaa" stroke-width="1.7"/>
<line x1="1105.16" y1="319.06" x2="1119.04" y2="332.94" stroke="#8b0000" stroke-width="1.7"/>
<line x1="1105.16" y1="332.94" x2="1119.04" y2="319.06" stroke="#8b0000" stroke-width="1.7"/>
<line x1="1102.29" y1="326.00" x2="1121.91" y2="326.00" stroke="#8b0000" stroke-width="1.7"/>
<line x1="1112.10" y1="316.19" x2="1112.10" y2="335.81" stroke="#8b0000" stroke-width="1.7"/>
<line x1="1018.96" y1="312.96" x2="1032.84" y2="326.84" stroke="#8b0000" stroke-width="1.7"/>
<line x1="1018.96" y1="326.84" x2="1032.84" y2="312.96" stroke="#8b0000" stroke-width="1.7"/>
<line x1="1016.09" y1="319.90" x2="1035.71" y2="319.90" stroke="#8b0000" stroke-width="1.7"/>
<line x1="1025.90" y1="310.09" x2="1025.90" y2="329.71" stroke="#8b0000" stroke-width="1.7"/>
<path d="M1025.90,311.39 L1035.52,328.06 L1016.28,328.06 Z" fill="none" stroke="#8b0000" stroke-width="1.7" stroke-linejoin="miter"/>
<line x1="1037.36" y1="320.16" x2="1051.24" y2="334.04" stroke="#8b0000" stroke-width="1.7"/>
<line x1="1037.36" y1="334.04" x2="1051.24" y2="320.16" stroke="#8b0000" stroke-width="1.7"/>
<line x1="1034.49" y1="327.10" x2="1054.11" y2="327.10" stroke="#8b0000" stroke-width="1.7"/>
<line x1="1044.30" y1="317.29" x2="1044.30" y2="336.91" stroke="#8b0000" stroke-width="1.7"/>
<path d="M1143.10,283.69 L1152.72,300.36 L1133.48,300.36 Z" fill="none" stroke="#8b0000" stroke-width="1.7" stroke-linejoin="miter"/>
<line x1="1117.36" y1="259.66" x2="1131.24" y2="273.54" stroke="#8b0000" stroke-width="1.7"/>
<line x1="1117.36" y1="273.54" x2="1131.24" y2="259.66" stroke="#8b0000" stroke-width="1.7"/>
<line x1="1114.49" y1="266.60" x2="1134.11" y2="266.60" stroke="#8b0000" stroke-width="1.7"/>
<line x1="1124.30" y1="256.79" x2="1124.30" y2="276.41" stroke="#8b0000" stroke-width="1.7"/>
<line x1="1094.56" y1="237.96" x2="1108.44" y2="251.84" stroke="#8b0000" stroke-width="1.7"/>
<line x1="1094.56" y1="251.84" x2="1108.44" y2="237.96" stroke="#8b0000" stroke-width="1.7"/>
<line x1="1091.69" y1="244.90" x2="1111.31" y2="244.90" stroke="#8b0000" stroke-width="1.7"/>
<line x1="1101.50" y1="235.09" x2="1101.50" y2="254.71" stroke="#8b0000" stroke-width="1.7"/>
<line x1="1091.69" y1="226.70" x2="1111.31" y2="226.70" stroke="#8b0000" stroke-width="1.7"/>
<line x1="1101.50" y1="216.89" x2="1101.50" y2="236.51" stroke="#8b0000" stroke-width="1.7"/>
<line x1="1148.96" y1="236.86" x2="1162.84" y2="250.74" stroke="#0000ff" stroke-width="1.7"/>
<line x1="1148.96" y1="250.74" x2="1162.84" y2="236.86" stroke="#0000ff" stroke-width="1.7"/>
<line x1="1146.09" y1="243.80" x2="1165.71" y2="243.80" stroke="#0000ff" stroke-width="1.7"/>
<line x1="1155.90" y1="233.99" x2="1155.90" y2="253.61" stroke="#0000ff" stroke-width="1.7"/>
<line x1="1185.26" y1="235.76" x2="1199.14" y2="249.64" stroke="#c4c4c4" stroke-width="1.7"/>
<line x1="1185.26" y1="249.64" x2="1199.14" y2="235.76" stroke="#c4c4c4" stroke-width="1.7"/>
<line x1="1182.39" y1="242.70" x2="1202.01" y2="242.70" stroke="#c4c4c4" stroke-width="1.7"/>
<line x1="1192.20" y1="232.89" x2="1192.20" y2="252.51" stroke="#c4c4c4" stroke-width="1.7"/>
<path d="M1195.40,239.49 L1205.02,256.16 L1185.78,256.16 Z" fill="none" stroke="#ffa500" stroke-width="1.7" stroke-linejoin="miter"/>
<path d="M979.50,261.49 L989.12,278.16 L969.88,278.16 Z" fill="none" stroke="#000000" stroke-width="1.7" stroke-linejoin="miter"/>
<path d="M1036.70,202.99 L1046.32,219.66 L1027.08,219.66 Z" fill="none" stroke="#000000" stroke-width="1.7" stroke-linejoin="miter"/>
<path d="M1126.80,199.89 L1136.42,216.56 L1117.18,216.56 Z" fill="none" stroke="#8b0000" stroke-width="1.7" stroke-linejoin="miter"/>
<path d="M1115.40,183.09 L1125.02,199.76 L1105.78,199.76 Z" fill="none" stroke="#000000" stroke-width="1.7" stroke-linejoin="miter"/>
<path d="M1101.50,156.69 L1111.12,173.36 L1091.88,173.36 Z" fill="none" stroke="#000000" stroke-width="1.7" stroke-linejoin="miter"/>
<path d="M1187.70,131.69 L1197.32,148.36 L1178.08,148.36 Z" fill="none" stroke="#8b0000" stroke-width="1.7" stroke-linejoin="miter"/>
<path d="M1207.30,123.69 L1216.92,140.36 L1197.68,140.36 Z" fill="none" stroke="#ffa500" stroke-width="1.7" stroke-linejoin="miter"/>
<path d="M1205.30,136.79 L1214.92,153.46 L1195.68,153.46 Z" fill="none" stroke="#ffa500" stroke-width="1.7" stroke-linejoin="miter"/>
<path d="M1171.60,147.89 L1181.22,164.56 L1161.98,164.56 Z" fill="none" stroke="#ffa500" stroke-width="1.7" stroke-linejoin="miter"/>
<line x1="1172.76" y1="143.26" x2="1186.64" y2="157.14" stroke="#8b0000" stroke-width="1.7"/>
<line x1="1172.76" y1="157.14" x2="1186.64" y2="143.26" stroke="#8b0000" stroke-width="1.7"/>
<line x1="1169.89" y1="150.20" x2="1189.51" y2="150.20" stroke="#8b0000" stroke-width="1.7"/>
<line x1="1179.70" y1="140.39" x2="1179.70" y2="160.01" stroke="#8b0000" stroke-width="1.7"/>
<path d="M1184.70,162.89 L1194.32,179.56 L1175.08,179.56 Z" fill="none" stroke="#8b0000" stroke-width="1.7" stroke-linejoin="miter"/>
<line x1="1778.10" y1="119.40" x2="1778.10" y2="360.30" stroke="#000000" stroke-width="1.8"/>
<line x1="1789.00" y1="188.00" x2="1789.00" y2="432.70" stroke="#000080" stroke-width="1.8"/>
<line x1="1798.60" y1="238.40" x2="1798.60" y2="420.60" stroke="#90ee90" stroke-width="1.8"/>
<line x1="1847.80" y1="157.00" x2="1847.80" y2="329.20" stroke="#006400" stroke-width="1.8"/>
<line x1="1567.50" y1="330.50" x2="1690.70" y2="330.50" stroke="#bebebe" stroke-width="2.6" stroke-opacity="0.72"/>
<line x1="1624.00" y1="232.80" x2="1624.00" y2="468.00" stroke="#bebebe" stroke-width="1.8"/>
<line x1="1537.00" y1="360.60" x2="1749.30" y2="360.60" stroke="#000080" stroke-width="2.6" stroke-opacity="0.72"/>
<line x1="1651.60" y1="199.80" x2="1651.60" y2="441.30" stroke="#000080" stroke-width="1.8"/>
<line x1="1658.00" y1="364.50" x2="1692.00" y2="364.50" stroke="#000080" stroke-width="2.6" stroke-opacity="0.72"/>
<line x1="1664.70" y1="371.90" x2="1705.00" y2="371.90" stroke="#000000" stroke-width="2.6" stroke-opacity="0.72"/>
<line x1="1668.00" y1="343.50" x2="1701.00" y2="343.50" stroke="#000000" stroke-width="2.6" stroke-opacity="0.72"/>
<line x1="1632.60" y1="451.40" x2="1689.80" y2="451.40" stroke="#006400" stroke-width="2.6" stroke-opacity="0.72"/>
<line x1="1661.00" y1="428.80" x2="1661.00" y2="472.70" stroke="#006400" stroke-width="1.8"/>
<line x1="1637.10" y1="565.60" x2="1695.90" y2="565.60" stroke="#006400" stroke-width="2.6" stroke-opacity="0.72"/>
<line x1="1665.20" y1="530.50" x2="1665.20" y2="599.50" stroke="#006400" stroke-width="1.8"/>
<line x1="1683.80" y1="304.00" x2="1744.30" y2="304.00" stroke="#006400" stroke-width="2.6" stroke-opacity="0.72"/>
<line x1="1681.90" y1="310.00" x2="1747.00" y2="310.00" stroke="#000080" stroke-width="2.6" stroke-opacity="0.72"/>
<line x1="1720.00" y1="319.10" x2="1744.30" y2="319.10" stroke="#bebebe" stroke-width="2.6" stroke-opacity="0.72"/>
<line x1="1658.30" y1="336.20" x2="1767.40" y2="336.20" stroke="#90ee90" stroke-width="2.6" stroke-opacity="0.72"/>
<line x1="1700.00" y1="366.30" x2="1748.00" y2="366.30" stroke="#bebebe" stroke-width="2.6" stroke-opacity="0.72"/>
<line x1="1744.30" y1="358.00" x2="1744.30" y2="382.00" stroke="#bebebe" stroke-width="1.8"/>
<line x1="1710.00" y1="377.40" x2="1840.80" y2="377.40" stroke="#000080" stroke-width="2.6" stroke-opacity="0.72"/>
<line x1="1718.00" y1="407.20" x2="1752.00" y2="407.20" stroke="#bebebe" stroke-width="2.6" stroke-opacity="0.72"/>
<line x1="1728.00" y1="416.20" x2="1754.00" y2="416.20" stroke="#bebebe" stroke-width="2.6" stroke-opacity="0.72"/>
<line x1="1753.30" y1="357.90" x2="1855.90" y2="357.90" stroke="#006400" stroke-width="2.6" stroke-opacity="0.72"/>
<line x1="1716.10" y1="367.30" x2="1824.70" y2="367.30" stroke="#006400" stroke-width="2.6" stroke-opacity="0.72"/>
<line x1="1792.50" y1="351.30" x2="1792.50" y2="392.50" stroke="#000000" stroke-width="1.8"/>
<line x1="1756.30" y1="312.10" x2="1863.90" y2="312.10" stroke="#000000" stroke-width="2.6" stroke-opacity="0.72"/>
<line x1="1761.00" y1="398.50" x2="1785.00" y2="398.50" stroke="#90ee90" stroke-width="2.6" stroke-opacity="0.72"/>
<line x1="1819.10" y1="418.50" x2="1841.70" y2="418.50" stroke="#90ee90" stroke-width="2.6" stroke-opacity="0.72"/>
<line x1="1765.40" y1="348.30" x2="1790.50" y2="348.30" stroke="#bebebe" stroke-width="2.6" stroke-opacity="0.72"/>
<line x1="1753.10" y1="211.80" x2="1848.80" y2="211.80" stroke="#000080" stroke-width="2.6" stroke-opacity="0.72"/>
<line x1="1756.30" y1="229.40" x2="1858.90" y2="229.40" stroke="#000080" stroke-width="2.6" stroke-opacity="0.72"/>
<line x1="1825.70" y1="210.30" x2="1869.90" y2="210.30" stroke="#006400" stroke-width="2.6" stroke-opacity="0.72"/>
<line x1="1836.80" y1="248.50" x2="1878.00" y2="248.50" stroke="#90ee90" stroke-width="2.6" stroke-opacity="0.72"/>
<line x1="1745.30" y1="260.50" x2="1848.80" y2="260.50" stroke="#006400" stroke-width="2.6" stroke-opacity="0.72"/>
<line x1="1756.30" y1="264.00" x2="1823.70" y2="264.00" stroke="#000080" stroke-width="2.6" stroke-opacity="0.72"/>
<line x1="1739.00" y1="264.50" x2="1771.00" y2="264.50" stroke="#90ee90" stroke-width="2.6" stroke-opacity="0.72"/>
<line x1="1673.40" y1="280.60" x2="1863.90" y2="280.60" stroke="#000000" stroke-width="2.6" stroke-opacity="0.72"/>
<line x1="1791.50" y1="278.60" x2="1824.70" y2="278.60" stroke="#90ee90" stroke-width="2.6" stroke-opacity="0.72"/>
<line x1="1795.50" y1="286.70" x2="1821.70" y2="286.70" stroke="#bebebe" stroke-width="2.6" stroke-opacity="0.72"/>
<line x1="1714.10" y1="293.70" x2="1815.70" y2="293.70" stroke="#000080" stroke-width="2.6" stroke-opacity="0.72"/>
<line x1="1690.00" y1="676.50" x2="1711.00" y2="676.50" stroke="#bebebe" stroke-width="2.6" stroke-opacity="0.72"/>
<line x1="1700.00" y1="667.00" x2="1700.00" y2="686.00" stroke="#bebebe" stroke-width="1.8"/>
<ellipse cx="1624.00" cy="330.50" rx="6.38" ry="6.38" fill="none" stroke="#bebebe" stroke-width="1.6"/>
<line x1="1617.62" y1="324.12" x2="1630.38" y2="336.88" stroke="#bebebe" stroke-width="1.6"/>
<line x1="1617.62" y1="336.88" x2="1630.38" y2="324.12" stroke="#bebebe" stroke-width="1.6"/>
<path d="M1642.58,360.60 L1651.60,351.58 L1660.62,360.60 L1651.60,369.62 Z" fill="none" stroke="#000080" stroke-width="1.6" stroke-linejoin="miter"/>
<line x1="1665.12" y1="358.12" x2="1677.88" y2="370.88" stroke="#000080" stroke-width="1.6"/>
<line x1="1665.12" y1="370.88" x2="1677.88" y2="358.12" stroke="#000080" stroke-width="1.6"/>
<line x1="1662.48" y1="364.50" x2="1680.52" y2="364.50" stroke="#000080" stroke-width="1.6"/>
<line x1="1671.50" y1="355.48" x2="1671.50" y2="373.52" stroke="#000080" stroke-width="1.6"/>
<line x1="1676.03" y1="365.52" x2="1688.78" y2="378.27" stroke="#000000" stroke-width="1.6"/>
<line x1="1676.03" y1="378.27" x2="1688.78" y2="365.52" stroke="#000000" stroke-width="1.6"/>
<line x1="1673.38" y1="371.90" x2="1691.42" y2="371.90" stroke="#000000" stroke-width="1.6"/>
<line x1="1682.40" y1="362.88" x2="1682.40" y2="380.92" stroke="#000000" stroke-width="1.6"/>
<line x1="1684.33" y1="337.12" x2="1697.08" y2="349.88" stroke="#000000" stroke-width="1.6"/>
<line x1="1684.33" y1="349.88" x2="1697.08" y2="337.12" stroke="#000000" stroke-width="1.6"/>
<line x1="1681.68" y1="343.50" x2="1699.72" y2="343.50" stroke="#000000" stroke-width="1.6"/>
<line x1="1690.70" y1="334.48" x2="1690.70" y2="352.52" stroke="#000000" stroke-width="1.6"/>
<path d="M1691.66,379.06 L1705.94,379.06 L1705.94,393.34 L1691.66,393.34 Z" fill="none" stroke="#000000" stroke-width="1.6" stroke-linejoin="miter"/>
<line x1="1691.66" y1="379.06" x2="1705.94" y2="393.34" stroke="#000000" stroke-width="1.6"/>
<line x1="1691.66" y1="393.34" x2="1705.94" y2="379.06" stroke="#000000" stroke-width="1.6"/>
<path d="M1677.20,401.80 L1686.82,418.45 L1667.58,418.45 Z" fill="none" stroke="#bebebe" stroke-width="1.6" stroke-linejoin="miter"/>
<path d="M1675.20,432.90 L1684.82,449.55 L1665.58,449.55 Z" fill="none" stroke="#bebebe" stroke-width="1.6" stroke-linejoin="miter"/>
<ellipse cx="1661.00" cy="451.40" rx="6.25" ry="6.25" fill="none" stroke="#006400" stroke-width="1.6"/>
<ellipse cx="1665.20" cy="565.60" rx="6.25" ry="6.25" fill="none" stroke="#006400" stroke-width="1.6"/>
<path d="M1701.00,391.40 L1710.62,408.05 L1691.38,408.05 Z" fill="none" stroke="#90ee90" stroke-width="1.6" stroke-linejoin="miter"/>
<line x1="1702.72" y1="297.62" x2="1715.47" y2="310.38" stroke="#006400" stroke-width="1.6"/>
<line x1="1702.72" y1="310.38" x2="1715.47" y2="297.62" stroke="#006400" stroke-width="1.6"/>
<line x1="1700.08" y1="304.00" x2="1718.12" y2="304.00" stroke="#006400" stroke-width="1.6"/>
<line x1="1709.10" y1="294.98" x2="1709.10" y2="313.02" stroke="#006400" stroke-width="1.6"/>
<line x1="1702.72" y1="303.62" x2="1715.47" y2="316.38" stroke="#000080" stroke-width="1.6"/>
<line x1="1702.72" y1="316.38" x2="1715.47" y2="303.62" stroke="#000080" stroke-width="1.6"/>
<line x1="1700.08" y1="310.00" x2="1718.12" y2="310.00" stroke="#000080" stroke-width="1.6"/>
<line x1="1709.10" y1="300.98" x2="1709.10" y2="319.02" stroke="#000080" stroke-width="1.6"/>
<line x1="1724.83" y1="312.73" x2="1737.58" y2="325.48" stroke="#bebebe" stroke-width="1.6"/>
<line x1="1724.83" y1="325.48" x2="1737.58" y2="312.73" stroke="#bebebe" stroke-width="1.6"/>
<line x1="1722.18" y1="319.10" x2="1740.22" y2="319.10" stroke="#bebebe" stroke-width="1.6"/>
<line x1="1731.20" y1="310.08" x2="1731.20" y2="328.12" stroke="#bebebe" stroke-width="1.6"/>
<path d="M1716.10,339.62 L1724.26,325.49 L1707.94,325.49 Z" fill="none" stroke="#000080" stroke-width="1.6" stroke-linejoin="miter"/>
<line x1="1711.18" y1="366.30" x2="1729.22" y2="366.30" stroke="#bebebe" stroke-width="1.6"/>
<line x1="1720.20" y1="357.28" x2="1720.20" y2="375.32" stroke="#bebebe" stroke-width="1.6"/>
<line x1="1737.92" y1="365.02" x2="1750.67" y2="377.77" stroke="#bebebe" stroke-width="1.6"/>
<line x1="1737.92" y1="377.77" x2="1750.67" y2="365.02" stroke="#bebebe" stroke-width="1.6"/>
<line x1="1735.28" y1="371.40" x2="1753.32" y2="371.40" stroke="#bebebe" stroke-width="1.6"/>
<line x1="1744.30" y1="362.38" x2="1744.30" y2="380.42" stroke="#bebebe" stroke-width="1.6"/>
<path d="M1728.20,396.10 L1737.82,412.75 L1718.58,412.75 Z" fill="none" stroke="#bebebe" stroke-width="1.6" stroke-linejoin="miter"/>
<path d="M1741.30,405.10 L1750.92,421.75 L1731.68,421.75 Z" fill="none" stroke="#bebebe" stroke-width="1.6" stroke-linejoin="miter"/>
<path d="M1770.40,356.88 L1778.56,373.36 L1762.24,373.36 Z" fill="none" stroke="#006400" stroke-width="1.6" stroke-linejoin="miter"/>
<path d="M1770.40,375.72 L1778.56,359.24 L1762.24,359.24 Z" fill="none" stroke="#006400" stroke-width="1.6" stroke-linejoin="miter"/>
<path d="M1778.50,369.98 L1786.66,386.46 L1770.34,386.46 Z" fill="none" stroke="#000080" stroke-width="1.6" stroke-linejoin="miter"/>
<path d="M1778.50,388.82 L1786.66,372.34 L1770.34,372.34 Z" fill="none" stroke="#000080" stroke-width="1.6" stroke-linejoin="miter"/>
<path d="M1772.00,366.58 L1780.16,383.06 L1763.84,383.06 Z" fill="none" stroke="#000080" stroke-width="1.6" stroke-linejoin="miter"/>
<path d="M1772.00,385.42 L1780.16,368.94 L1763.84,368.94 Z" fill="none" stroke="#000080" stroke-width="1.6" stroke-linejoin="miter"/>
<line x1="1786.12" y1="365.02" x2="1798.88" y2="377.77" stroke="#000000" stroke-width="1.6"/>
<line x1="1786.12" y1="377.77" x2="1798.88" y2="365.02" stroke="#000000" stroke-width="1.6"/>
<line x1="1783.48" y1="371.40" x2="1801.52" y2="371.40" stroke="#000000" stroke-width="1.6"/>
<line x1="1792.50" y1="362.38" x2="1792.50" y2="380.42" stroke="#000000" stroke-width="1.6"/>
<ellipse cx="1797.60" cy="357.30" rx="6.38" ry="6.38" fill="none" stroke="#006400" stroke-width="1.6"/>
<line x1="1791.22" y1="357.30" x2="1803.97" y2="357.30" stroke="#006400" stroke-width="1.6"/>
<line x1="1797.60" y1="350.93" x2="1797.60" y2="363.68" stroke="#006400" stroke-width="1.6"/>
<path d="M1793.59,305.09 L1807.61,305.09 L1807.61,319.11 L1793.59,319.11 Z" fill="none" stroke="#000000" stroke-width="1.6" stroke-linejoin="miter"/>
<line x1="1793.59" y1="312.10" x2="1807.61" y2="312.10" stroke="#000000" stroke-width="1.6"/>
<line x1="1800.60" y1="305.09" x2="1800.60" y2="319.11" stroke="#000000" stroke-width="1.6"/>
<path d="M1772.40,387.40 L1782.02,404.05 L1762.78,404.05 Z" fill="none" stroke="#90ee90" stroke-width="1.6" stroke-linejoin="miter"/>
<path d="M1830.40,407.40 L1840.02,424.05 L1820.78,424.05 Z" fill="none" stroke="#90ee90" stroke-width="1.6" stroke-linejoin="miter"/>
<path d="M1789.39,204.79 L1803.41,204.79 L1803.41,218.81 L1789.39,218.81 Z" fill="none" stroke="#000080" stroke-width="1.6" stroke-linejoin="miter"/>
<line x1="1789.39" y1="211.80" x2="1803.41" y2="211.80" stroke="#000080" stroke-width="1.6"/>
<line x1="1796.40" y1="204.79" x2="1796.40" y2="218.81" stroke="#000080" stroke-width="1.6"/>
<path d="M1789.59,222.39 L1803.61,222.39 L1803.61,236.41 L1789.59,236.41 Z" fill="none" stroke="#000080" stroke-width="1.6" stroke-linejoin="miter"/>
<line x1="1789.59" y1="229.40" x2="1803.61" y2="229.40" stroke="#000080" stroke-width="1.6"/>
<line x1="1796.60" y1="222.39" x2="1796.60" y2="236.41" stroke="#000080" stroke-width="1.6"/>
<path d="M1838.78,210.30 L1847.80,201.28 L1856.82,210.30 L1847.80,219.32 Z" fill="none" stroke="#006400" stroke-width="1.6" stroke-linejoin="miter"/>
<line x1="1797.22" y1="225.03" x2="1809.97" y2="237.78" stroke="#90ee90" stroke-width="1.6"/>
<line x1="1797.22" y1="237.78" x2="1809.97" y2="225.03" stroke="#90ee90" stroke-width="1.6"/>
<line x1="1794.58" y1="231.40" x2="1812.62" y2="231.40" stroke="#90ee90" stroke-width="1.6"/>
<line x1="1803.60" y1="222.38" x2="1803.60" y2="240.42" stroke="#90ee90" stroke-width="1.6"/>
<line x1="1848.53" y1="242.12" x2="1861.28" y2="254.88" stroke="#90ee90" stroke-width="1.6"/>
<line x1="1848.53" y1="254.88" x2="1861.28" y2="242.12" stroke="#90ee90" stroke-width="1.6"/>
<line x1="1845.88" y1="248.50" x2="1863.92" y2="248.50" stroke="#90ee90" stroke-width="1.6"/>
<line x1="1854.90" y1="239.48" x2="1854.90" y2="257.52" stroke="#90ee90" stroke-width="1.6"/>
<line x1="1782.12" y1="256.12" x2="1794.88" y2="268.88" stroke="#000080" stroke-width="1.6"/>
<line x1="1782.12" y1="268.88" x2="1794.88" y2="256.12" stroke="#000080" stroke-width="1.6"/>
<line x1="1779.48" y1="262.50" x2="1797.52" y2="262.50" stroke="#000080" stroke-width="1.6"/>
<line x1="1788.50" y1="253.48" x2="1788.50" y2="271.52" stroke="#000080" stroke-width="1.6"/>
<line x1="1765.03" y1="258.12" x2="1777.78" y2="270.88" stroke="#90ee90" stroke-width="1.6"/>
<line x1="1765.03" y1="270.88" x2="1777.78" y2="258.12" stroke="#90ee90" stroke-width="1.6"/>
<line x1="1762.38" y1="264.50" x2="1780.42" y2="264.50" stroke="#90ee90" stroke-width="1.6"/>
<line x1="1771.40" y1="255.48" x2="1771.40" y2="273.52" stroke="#90ee90" stroke-width="1.6"/>
<path d="M1769.48,280.60 L1778.50,271.58 L1787.52,280.60 L1778.50,289.62 Z" fill="none" stroke="#000000" stroke-width="1.6" stroke-linejoin="miter"/>
<line x1="1799.58" y1="286.70" x2="1817.62" y2="286.70" stroke="#bebebe" stroke-width="1.6"/>
<line x1="1808.60" y1="277.68" x2="1808.60" y2="295.72" stroke="#bebebe" stroke-width="1.6"/>
<path d="M1758.26,286.56 L1772.54,286.56 L1772.54,300.84 L1758.26,300.84 Z" fill="none" stroke="#000080" stroke-width="1.6" stroke-linejoin="miter"/>
<line x1="1758.26" y1="286.56" x2="1772.54" y2="300.84" stroke="#000080" stroke-width="1.6"/>
<line x1="1758.26" y1="300.84" x2="1772.54" y2="286.56" stroke="#000080" stroke-width="1.6"/>
<line x1="1746.92" y1="290.32" x2="1759.67" y2="303.07" stroke="#000080" stroke-width="1.6"/>
<line x1="1746.92" y1="303.07" x2="1759.67" y2="290.32" stroke="#000080" stroke-width="1.6"/>
<line x1="1744.28" y1="296.70" x2="1762.32" y2="296.70" stroke="#000080" stroke-width="1.6"/>
<line x1="1753.30" y1="287.68" x2="1753.30" y2="305.72" stroke="#000080" stroke-width="1.6"/>
<line x1="1690.98" y1="676.50" x2="1709.02" y2="676.50" stroke="#bebebe" stroke-width="1.6"/>
<line x1="1700.00" y1="667.48" x2="1700.00" y2="685.52" stroke="#bebebe" stroke-width="1.6"/>
</svg></body></html>
